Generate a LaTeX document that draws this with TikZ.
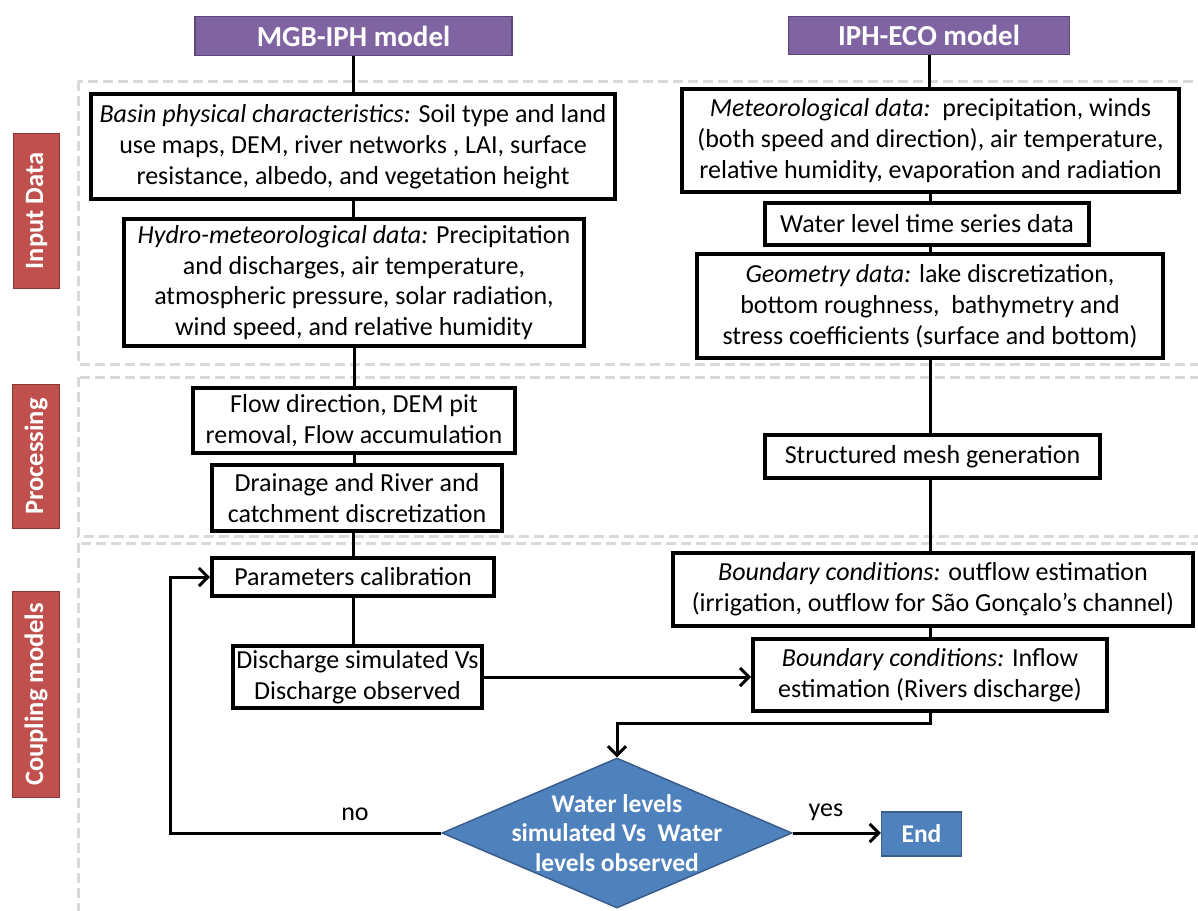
\documentclass[tikz,border=0pt]{standalone}
\usepackage{fontspec}
\setmainfont{Carlito}
\usetikzlibrary{arrows.meta,shapes.geometric}
\definecolor{hdrfill}{HTML}{8064A2}
\definecolor{hdrdraw}{HTML}{5C4776}
\definecolor{sidefill}{HTML}{C0504D}
\definecolor{sidedraw}{HTML}{8C3836}
\definecolor{bluefill}{HTML}{4F81BD}
\definecolor{bluedraw}{HTML}{385D8A}
\definecolor{zonegray}{HTML}{D9D9D9}
\begin{document}
\begin{tikzpicture}[x=1pt,y=-1pt,
  box/.style={draw=black, line width=4pt, fill=white, align=center, inner sep=0pt,
    font=\fontsize{26}{30.8}\selectfont},
  hdr/.style={draw=hdrdraw, line width=1.5pt, fill=hdrfill, text=white, inner sep=0pt,
    font=\fontsize{29}{34}\selectfont\bfseries},
  side/.style={draw=sidedraw, line width=1.5pt, fill=sidefill, text=white, inner sep=0pt,
    rotate=90, font=\fontsize{26.5}{30}\selectfont\bfseries},
  conn/.style={line width=3pt},
  arr/.style={line width=3pt, -{Straight Barb[length=9pt,width=18pt,line width=3pt]}},
  zone/.style={draw=zonegray, line width=3pt, dash pattern=on 10pt off 5pt},
  lbl/.style={inner sep=0pt, font=\fontsize{26}{30}\selectfont},
]
\useasboundingbox (0,0) rectangle (1198,910);
\fill[white] (0,0) rectangle (1198,910);
\begin{scope}
  \clip (0,0) rectangle (1198,910);
  \draw[zone] (78,81) rectangle (1215,364);
  \draw[zone] (78,377) rectangle (1215,536);
  \draw[zone] (78,543) rectangle (1215,935);
\end{scope}

% side labels
\node[side, minimum width=155pt, minimum height=46pt] (sinput) at (36.5,211) {Input Data};
\node[side, minimum width=144pt, minimum height=47pt] (sproc) at (36,456.5) {Processing};
\node[side, minimum width=206pt, minimum height=47pt] (scoup) at (36,694.5) {Coupling models};

% headers
\node[hdr, minimum width=317pt, minimum height=39pt] (hmgb) at (353.5,36) {MGB-IPH model};
\node[hdr, minimum width=281pt, minimum height=38pt] (hiph) at (929,35.5) {IPH-ECO model};

% left column
\node[box, minimum width=524pt, minimum height=105pt] (basin) at (353,146.5)
  {\textit{Basin physical characteristics:} Soil type and land\\use maps, DEM, river networks , LAI, surface\\resistance, albedo, and vegetation height};
\node[box, minimum width=460pt, minimum height=127pt] (hydro) at (354,282.5)
  {\textit{Hydro-meteorological data:} Precipitation\\and discharges, air temperature,\\atmospheric pressure, solar radiation,\\wind speed, and relative humidity};
\node[box, minimum width=322pt, minimum height=65pt] (flow) at (354,420.5)
  {Flow direction, DEM pit\\removal, Flow accumulation};
\node[box, minimum width=290pt, minimum height=66pt] (drain) at (357,498)
  {Drainage and River and\\catchment discretization};
\node[box, minimum width=282pt, minimum height=38pt] (params) at (353,577)
  {Parameters calibration};
\node[box, minimum width=249pt, minimum height=62pt] (disch) at (357.5,677)
  {Discharge simulated Vs\\Discharge observed};

% right column
\node[box, minimum width=497pt, minimum height=103pt] (met) at (930.5,140.5)
  {\textit{Meteorological data:}~~precipitation, winds\\(both speed and direction), air temperature,\\relative humidity, evaporation and radiation};
\node[box, minimum width=324pt, minimum height=42pt] (wl) at (927,224)
  {Water level time series data};
\node[box, minimum width=466pt, minimum height=104pt] (geom) at (930,306)
  {\textit{Geometry data:} lake discretization,\\bottom roughness,~~bathymetry and\\stress coefficients (surface and bottom)};
\node[box, minimum width=335pt, minimum height=43pt] (mesh) at (932.5,456.5)
  {Structured mesh generation};
\node[box, minimum width=520pt, minimum height=73pt] (outf) at (933,589.5)
  {\textit{Boundary conditions:} outflow estimation\\(irrigation, outflow for São Gonçalo’s channel)};
\node[box, minimum width=354pt, minimum height=72pt] (inf) at (930,675)
  {\textit{Boundary conditions:} Inflow\\estimation (Rivers discharge)};

% decision and end
\node[diamond, draw=bluedraw, line width=1.5pt, fill=bluefill, inner sep=0pt,
  minimum width=350pt, minimum height=150pt] (dec) at (617,833) {};
\node[align=center, text=white, inner sep=0pt, font=\fontsize{25.5}{29.5}\selectfont\bfseries]
  (dectext) at (dec.center) {Water levels\\simulated Vs~~Water\\levels observed};
\node[draw=bluedraw, line width=1.5pt, fill=bluefill, text=white, inner sep=0pt,
  minimum width=80pt, minimum height=44pt, font=\fontsize{25.5}{30}\selectfont\bfseries]
  (endn) at (921.5,834) {End};

% left chain
\draw[conn] (hmgb.south) -- (hmgb.south |- basin.north);
\draw[conn] (basin.south) -- (basin.south |- hydro.north);
\draw[conn] (hydro.south) -- (hydro.south |- flow.north);
\draw[conn] (flow.south) -- (flow.south |- drain.north);
\draw[conn] (params.north |- drain.south) -- (params.north);
\draw[conn] (params.south) -- (params.south |- disch.north);

% right chain
\draw[conn] (hiph.south) -- (hiph.south |- met.north);
\draw[conn] (met.south) -- (met.south |- wl.north);
\draw[conn] (wl.south -| met.south) -- (met.south |- geom.north);
\draw[conn] (geom.south) -- (geom.south |- mesh.north);
\draw[conn] (mesh.south -| geom.south) -- (geom.south |- outf.north);
\draw[conn] (outf.south -| geom.south) -- (geom.south |- inf.north);

% coupling connectors
\draw[arr] (disch.east) -- (disch.east -| inf.west);
\coordinate (j1) at (930,723);
\coordinate (j2) at (617,723);
\draw[arr] (inf.south) -- (j1) -- (j2) -- (dec.north);
\coordinate (lp1) at (170,833);
\coordinate (lp2) at (170,577);
\draw[arr] (dec.west) -- (lp1) -- (lp2) -- (params.west);
\draw[arr] (dec.east) -- (dec.east -| endn.west);

\node[lbl] (nolbl) at (355,814) {no};
\node[lbl] (yeslbl) at (826,812) {yes};
\end{tikzpicture}
\end{document}
